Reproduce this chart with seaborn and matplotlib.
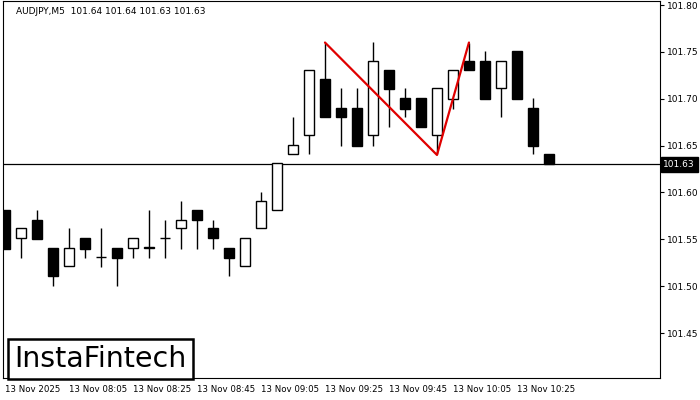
import matplotlib
matplotlib.use("Agg")
import matplotlib.pyplot as plt
import seaborn as sns
import numpy as np

# --- data (AUDJPY M5) ---
opens = [101.581, 101.551, 101.571, 101.541, 101.521, 101.551, 101.531, 101.541, 101.541, 101.541,
         101.551, 101.562, 101.581, 101.562, 101.541, 101.521, 101.562, 101.581, 101.641, 101.661,
         101.721, 101.690, 101.690, 101.661, 101.731, 101.701, 101.701, 101.661, 101.700, 101.740,
         101.740, 101.711, 101.751, 101.690, 101.641]
closes = [101.540, 101.562, 101.550, 101.511, 101.541, 101.540, 101.531, 101.530, 101.551, 101.541,
          101.551, 101.571, 101.571, 101.551, 101.530, 101.551, 101.591, 101.631, 101.651, 101.731,
          101.680, 101.680, 101.650, 101.740, 101.710, 101.689, 101.670, 101.711, 101.731, 101.731,
          101.700, 101.740, 101.700, 101.650, 101.630]
highs = [101.581, 101.562, 101.581, 101.541, 101.562, 101.551, 101.562, 101.541, 101.551, 101.581,
         101.571, 101.591, 101.581, 101.571, 101.541, 101.551, 101.601, 101.631, 101.681, 101.731,
         101.760, 101.711, 101.711, 101.761, 101.731, 101.711, 101.701, 101.711, 101.731, 101.760,
         101.751, 101.740, 101.751, 101.701, 101.641]
lows = [101.540, 101.530, 101.550, 101.500, 101.521, 101.530, 101.520, 101.500, 101.530, 101.530,
        101.530, 101.540, 101.540, 101.540, 101.511, 101.521, 101.562, 101.581, 101.641, 101.641,
        101.680, 101.650, 101.650, 101.650, 101.670, 101.680, 101.670, 101.641, 101.689, 101.731,
        101.700, 101.680, 101.700, 101.641, 101.630]

pattern_idx = [20, 27, 29]
pattern_px = [101.760, 101.640, 101.760]
last_price = 101.63

tick_idx = [0, 4, 8, 12, 16, 20, 24, 28, 32]
tick_labels = ["13 Nov 2025", "13 Nov 08:05", "13 Nov 08:25", "13 Nov 08:45", "13 Nov 09:05",
               "13 Nov 09:25", "13 Nov 09:45", "13 Nov 10:05", "13 Nov 10:25"]
y_ticks = [101.45, 101.50, 101.55, 101.60, 101.65, 101.70, 101.75, 101.80]

sns.set_style("white")
plt.rcParams['font.family'] = ['DejaVu Sans']
plt.rcParams['text.color'] = 'black'
plt.rcParams['xtick.color'] = 'black'
plt.rcParams['ytick.color'] = 'black'

fig = plt.figure(figsize=(7, 4), dpi=100)
ax = fig.add_axes([3 / 700, 22 / 400, 657 / 700, 377 / 400])

x = np.arange(len(opens))
o = np.array(opens); c = np.array(closes)
bottom = np.minimum(o, c)
height = np.abs(c - o)
height = np.where(height < 0.0005, 0.0003, height)
colors = np.where(c < o, 'black', 'white')

ax.vlines(x, lows, highs, color='black', lw=1, zorder=2)
ax.bar(x, height, bottom=bottom, width=0.6, color=colors, edgecolor='black', lw=1, zorder=3)

ax.plot(pattern_idx, pattern_px, color='#e00000', lw=1.6, zorder=4)
ax.axhline(last_price, color='black', lw=0.9, zorder=1)

ax.set_xlim(-0.125, 40.94)
ax.set_ylim(101.402, 101.8043)

ax.yaxis.tick_right()
ax.set_yticks(y_ticks)
ax.set_yticklabels([f"{v:.2f}" for v in y_ticks], fontsize=6.5)
ax.set_xticks(tick_idx)
ax.set_xticklabels(tick_labels, fontsize=6.2, ha='left')
ax.tick_params(axis='both', length=3, width=0.8, color='black', pad=2, direction='out')
for s in ax.spines.values():
    s.set_color('black')
    s.set_linewidth(0.8)

ax.text(1.005, last_price, f"{last_price:.2f}", transform=ax.get_yaxis_transform(),
        fontsize=6.5, color='white', va='center', ha='left',
        bbox=dict(boxstyle='square,pad=0.3', fc='black', ec='black'))

ax.text(0.02, 0.985, "AUDJPY,M5  101.64 101.64 101.63 101.63", transform=ax.transAxes,
        fontsize=6.5, va='top', ha='left')

ax.text(0.017, 0.05, "InstaFintech", transform=ax.transAxes, fontsize=20.5, va='center', ha='left',
        color='black',
        bbox=dict(boxstyle='square,pad=0.22', fc='white', ec='black', lw=1.8), zorder=6)

fig.savefig("out.png", dpi=100)
